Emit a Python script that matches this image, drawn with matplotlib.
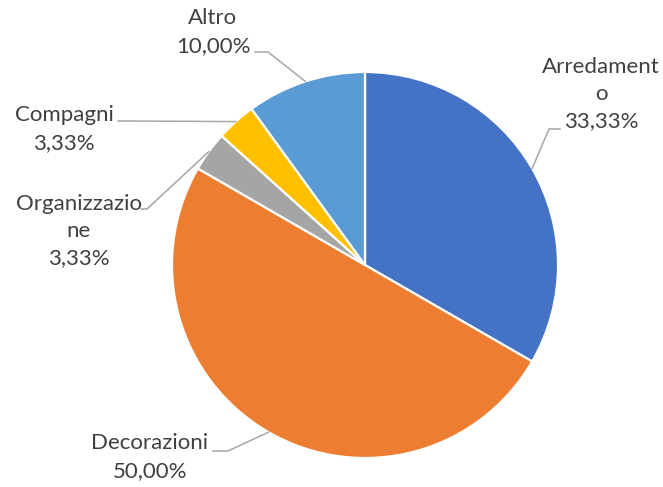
import numpy as np
import matplotlib.pyplot as plt

categories = ['Arredamento', 'Decorazioni', 'Organizzazione', 'Compagni', 'Altro']
label_text = ['Arredament\no', 'Decorazioni', 'Organizzazio\nne', 'Compagni', 'Altro']
values = [10, 15, 1, 1, 3]
colors = ['#4472C4', '#ED7D31', '#A5A5A5', '#FFC000', '#5B9BD5']

W, H = 663, 487
cx, cy, R = 365, 265, 193  # pie centre / radius in pixels


def px(x, y):
    # pixel position -> data units (pie radius = 1)
    return (x - cx) / R, (cy - y) / R


fig = plt.figure(figsize=(W / 100, H / 100), dpi=100)
ax = fig.add_axes([0, 0, 1, 1])

wedges, _ = ax.pie(values, colors=colors, startangle=90, counterclock=False,
                   radius=1, wedgeprops=dict(edgecolor='white', linewidth=1.6))

# pie() resets the limits, so set them afterwards
ax.set_xlim(-cx / R, (W - cx) / R)
ax.set_ylim(-(H - cy) / R, cy / R)
ax.set_aspect('equal')
ax.axis('off')

pct = [v / sum(values) * 100 for v in values]

# label centre positions and leader-line start/elbow (pixels)
label_pos = [(601, 94), (150, 457), (79, 231), (64, 129), (213, 32)]
leader = [[(560, 129), (549, 129)],
          [(213, 451), (228, 451)],
          [(141, 209), (147, 209)],
          [(118, 121), (125, 121)],
          [(255, 52), (268, 52)]]

for i, w in enumerate(wedges):
    mid = np.deg2rad((w.theta1 + w.theta2) / 2)
    ex, ey = np.cos(mid), np.sin(mid)
    pts = [px(*p) for p in leader[i]] + [(ex, ey)]
    ax.plot([p[0] for p in pts], [p[1] for p in pts], color='#A6A6A6', lw=1.1)
    txt = label_text[i] + '\n' + f'{pct[i]:.2f}'.replace('.', ',') + '%'
    tx, ty = px(*label_pos[i])
    ax.text(tx, ty, txt, ha='center', va='center', fontsize=16,
            family='Lato', color='#404040', linespacing=1.45)

plt.savefig('out.png', dpi=100)
